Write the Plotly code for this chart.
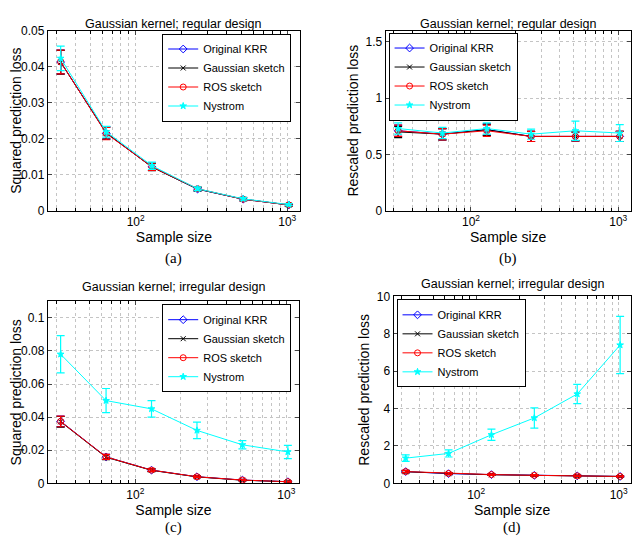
import plotly.graph_objects as go

# datos (tamaños de muestra 32..1024)
sample_size = [32, 64, 128, 256, 512, 1024]
series_names = ["Original KRR", "Gaussian sketch", "ROS sketch", "Nystrom"]

# (a) regular design, squared loss
reg_sq_krr = [0.0413, 0.0215, 0.0122, 0.0060, 0.0032, 0.0016]
reg_sq_gauss = [0.0412, 0.0216, 0.0121, 0.0060, 0.0032, 0.0016]
reg_sq_ros = [0.0413, 0.0214, 0.0122, 0.0061, 0.0032, 0.0016]
reg_sq_nys = [0.0423, 0.0219, 0.0125, 0.0061, 0.0033, 0.0017]
reg_sq_err = [0.0033, 0.0017, 0.0010, 0.0005, 0.0004, 0.0003]
reg_sq_nys_err = [0.0034, 0.0015, 0.0010, 0.0005, 0.0004, 0.0003]

# (b) regular design, rescaled loss
reg_rs_krr = [0.71, 0.68, 0.72, 0.66, 0.66, 0.66]
reg_rs_gauss = [0.70, 0.68, 0.72, 0.66, 0.66, 0.66]
reg_rs_ros = [0.71, 0.68, 0.71, 0.66, 0.66, 0.66]
reg_rs_nys = [0.73, 0.69, 0.73, 0.68, 0.71, 0.69]
reg_rs_err = [0.05, 0.05, 0.05, 0.045, 0.04, 0.045]
reg_rs_nys_err = [0.05, 0.05, 0.05, 0.045, 0.085, 0.075]

# (c) irregular design, squared loss
irr_sq_krr = [0.0375, 0.0160, 0.0080, 0.0040, 0.0020, 0.0010]
irr_sq_gauss = [0.0372, 0.0158, 0.0079, 0.0039, 0.0019, 0.0010]
irr_sq_ros = [0.0374, 0.0160, 0.0080, 0.0040, 0.0020, 0.0010]
irr_sq_nys = [0.0780, 0.0500, 0.0450, 0.0320, 0.0233, 0.0190]
irr_sq_err = [0.0032, 0.0015, 0.0008, 0.0005, 0.0004, 0.0003]
irr_sq_nys_err = [0.0112, 0.0073, 0.0050, 0.0050, 0.0025, 0.0040]

# (d) irregular design, rescaled loss
irr_rs_krr = [0.63, 0.52, 0.47, 0.43, 0.40, 0.37]
irr_rs_gauss = [0.62, 0.52, 0.46, 0.43, 0.39, 0.37]
irr_rs_ros = [0.63, 0.53, 0.47, 0.43, 0.40, 0.37]
irr_rs_nys = [1.35, 1.60, 2.60, 3.50, 4.78, 7.40]
irr_rs_err = [0.06, 0.05, 0.04, 0.04, 0.04, 0.03]
irr_rs_nys_err = [0.17, 0.19, 0.30, 0.54, 0.51, 1.53]

x_tickvals = [100, 1000]
x_ticktext = ["10<sup>2</sup>", "10<sup>3</sup>"]
x_minorvals = [30, 40, 50, 60, 70, 80, 90, 200, 300, 400, 500, 600, 700, 800, 900]

colores = ["#0000ff", "#000000", "#ff0000", "#00ffff"]
simbolos = ["diamond-open", "x-thin-open", "circle-open", "star"]
tamanos = [6, 5, 6, 5]

# la pagina tiene 8px de margen en el body -> figura de 624x533
W, H, OFF = 624, 533, 8
def px_x(p):
    return min(max((p - OFF) / W, 0), 0.998)
def px_y(p):
    return min(max(1 - (p - OFF) / H, 0), 1)

paneles = [
    # datos, errores, titulo, ytitulo, yrango, dtick, caption, caja (x0, x1, y0, y1 en px), leyenda (px, lado)
    ([reg_sq_krr, reg_sq_gauss, reg_sq_ros, reg_sq_nys], [reg_sq_err, reg_sq_err, reg_sq_err, reg_sq_nys_err],
     "Gaussian kernel; regular design", "Squared prediction loss", [0, 0.05], 0.01, "(a)",
     (44, 298, 24, 209), (289, 27, "right"), 8, 258),
    ([reg_rs_krr, reg_rs_gauss, reg_rs_ros, reg_rs_nys], [reg_rs_err, reg_rs_err, reg_rs_err, reg_rs_nys_err],
     "Gaussian kernel; regular design", "Rescaled prediction loss", [0, 1.6], 0.5, "(b)",
     (384, 639, 24, 209), (387, 26, "left"), 8, 258),
    ([irr_sq_krr, irr_sq_gauss, irr_sq_ros, irr_sq_nys], [irr_sq_err, irr_sq_err, irr_sq_err, irr_sq_nys_err],
     "Gaussian kernel; irregular design", "Squared prediction loss", [0, 0.11], 0.02, "(c)",
     (44, 297, 302, 489), (289, 305, "right"), 278, 534),
    ([irr_rs_krr, irr_rs_gauss, irr_rs_ros, irr_rs_nys], [irr_rs_err, irr_rs_err, irr_rs_err, irr_rs_nys_err],
     "Gaussian kernel; irregular design", "Rescaled prediction loss", [0, 10], 2, "(d)",
     (392, 639, 297, 489), (395, 300, "left"), 275, 534),
]

fig = go.Figure()
fuente = "Liberation Sans, Arial, sans-serif"
gris = "#c4c4c4"
anotaciones = []

for i, (datos, errores, titulo, ytitulo, yrango, dtick, caption, caja, ley, ytit, ycap) in enumerate(paneles):
    n = "" if i == 0 else str(i + 1)
    dx = [px_x(caja[0]), px_x(caja[1])]
    dy = [px_y(caja[3]), px_y(caja[2])]
    for j in range(4):
        fig.add_trace(go.Scatter(
            x=sample_size, y=datos[j], name=series_names[j], mode="lines+markers",
            line=dict(color=colores[j], width=1),
            marker=dict(symbol=simbolos[j], size=tamanos[j], color=colores[j], line=dict(width=1, color=colores[j])),
            error_y=dict(type="data", array=errores[j], color=colores[j], thickness=1.2, width=4),
            xaxis="x" + n, yaxis="y" + n, legend="legend" + n,
        ))
    fig.update_layout(**{
        "xaxis" + n: dict(domain=dx, anchor="y" + n, type="log", range=[1.42, 3.085],
                          tickvals=x_tickvals, ticktext=x_ticktext, ticks="inside", ticklen=4,
                          minor=dict(tickmode="array", tickvals=x_minorvals, ticks="inside", ticklen=3,
                                     tickcolor="black", showgrid=True, gridcolor=gris, griddash="dot", gridwidth=1),
                          showgrid=True, gridcolor=gris, griddash="dot", gridwidth=1,
                          showline=True, linecolor="black", mirror="ticks", zeroline=False,
                          tickfont=dict(size=12, color="black"),
                          title=dict(text="Sample size", font=dict(size=14, color="black"), standoff=0)),
        "yaxis" + n: dict(domain=dy, anchor="x" + n, range=yrango, dtick=dtick, ticks="inside", ticklen=4,
                          showgrid=True, gridcolor=gris, griddash="dot", gridwidth=1,
                          showline=True, linecolor="black", mirror="ticks", zeroline=False,
                          tickfont=dict(size=12, color="black"),
                          title=dict(text=ytitulo, font=dict(size=14, color="black"), standoff=3)),
        "legend" + n: dict(x=px_x(ley[0]), y=px_y(ley[1]), xanchor=ley[2], yanchor="top",
                           bgcolor="white", bordercolor="black", borderwidth=1,
                           font=dict(size=11, color="black"), tracegroupgap=0, itemwidth=30),
    })
    xc = (dx[0] + dx[1]) / 2
    anotaciones.append(dict(text=titulo, x=xc, y=px_y(ytit), xref="paper", yref="paper",
                            xanchor="center", yanchor="top", showarrow=False,
                            font=dict(size=12.5, color="black", family=fuente)))
    anotaciones.append(dict(text=caption, x=xc, y=px_y(ycap), xref="paper", yref="paper",
                            xanchor="center", yanchor="middle", showarrow=False,
                            font=dict(size=15, color="black", family="Liberation Serif, serif")))

fig.update_layout(
    width=W, height=H, margin=dict(l=0, r=0, t=0, b=0),
    paper_bgcolor="white", plot_bgcolor="white",
    font=dict(family=fuente, color="black"),
    annotations=anotaciones,
)

fig.write_html("out.html")
